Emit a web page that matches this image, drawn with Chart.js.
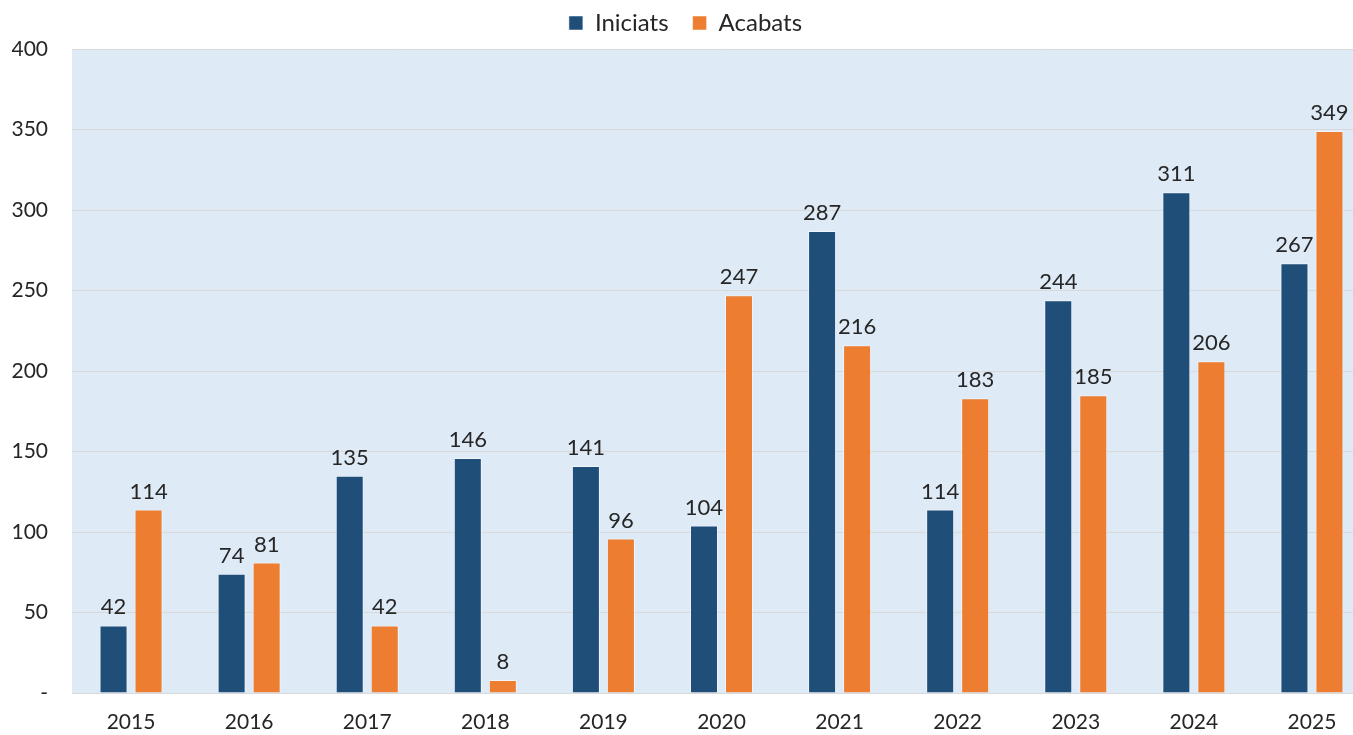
<!DOCTYPE html>
<html>
<head>
<meta charset="utf-8">
<script src="https://cdn.jsdelivr.net/npm/chart.js@4"></script>
<style>
  html, body { margin: 0; padding: 0; background: #fff; overflow: hidden; }
  canvas { display: block; }
</style>
</head>
<body>
<canvas id="barChart" width="1380" height="735"></canvas>
<script>
// dades llegides del gràfic
const anys = ['2015', '2016', '2017', '2018', '2019', '2020', '2021', '2022', '2023', '2024', '2025'];
const iniciats = [42, 74, 135, 146, 141, 104, 287, 114, 244, 311, 267];
const acabats = [114, 81, 42, 8, 96, 247, 216, 183, 185, 206, 349];
const yTicks = [0, 50, 100, 150, 200, 250, 300, 350, 400];

const FONT = 'Lato, "Open Sans", sans-serif';

// fons blau clar de l'àrea del gràfic
const plotBg = {
    id: 'plotBg',
    beforeDraw(chart) {
        const { ctx, chartArea: a } = chart;
        ctx.save();
        ctx.fillStyle = '#DEEAF6';
        ctx.fillRect(a.left, a.top, a.right - a.left, a.bottom - a.top);
        ctx.restore();
    }
};

// llegenda: alçada fixa i una mica més amunt, amb més espai entre elements
const legendFix = {
    id: 'legendFix',
    beforeInit(chart) {
        const lg = chart.legend;
        if (!lg) return;
        const fit = lg.fit;
        lg.fit = function () { fit.call(this); this.height = 49; };
        const draw = lg.draw;
        lg.draw = function () {
            const ctx = this.ctx;
            ctx.save();
            ctx.translate(0, -13);
            draw.call(this);
            ctx.restore();
        };
    }
};

// etiquetes de valor damunt de cada barra
const valueLabels = {
    id: 'valueLabels',
    afterDatasetsDraw(chart) {
        const ctx = chart.ctx;
        ctx.save();
        ctx.font = '22px ' + FONT;
        ctx.fillStyle = '#262626';
        ctx.textAlign = 'center';
        ctx.textBaseline = 'bottom';
        chart.data.datasets.forEach((ds, i) => {
            chart.getDatasetMeta(i).data.forEach((bar, j) => {
                ctx.fillText(ds.data[j], bar.x, bar.y - 7);
            });
        });
        ctx.restore();
    }
};

new Chart(document.getElementById('barChart'), {
    type: 'bar',
    data: {
        labels: anys,
        datasets: [
            { label: 'Iniciats', data: iniciats, backgroundColor: '#1F4E79', borderColor: 'rgba(255,255,255,0.5)', borderWidth: 1 },
            { label: 'Acabats', data: acabats, backgroundColor: '#ED7D31', borderColor: 'rgba(255,255,255,0.5)', borderWidth: 1 }
        ]
    },
    options: {
        responsive: false,
        animation: false,
        categoryPercentage: 0.593,
        barPercentage: 0.8,
        layout: { padding: { top: 0, right: 9, left: 0, bottom: 0 } },
        plugins: {
            legend: {
                position: 'top',
                labels: {
                    font: { family: FONT, size: 24 },
                    color: '#262626',
                    boxWidth: 14,
                    boxHeight: 14,
                    padding: 24
                }
            },
            tooltip: { enabled: false }
        },
        scales: {
            x: {
                grid: { display: false, drawTicks: false },
                border: { color: '#D9D9D9' },
                ticks: { font: { family: FONT, size: 21 }, color: '#262626', padding: 17 },
                afterFit: s => { s.height = 42; }
            },
            y: {
                min: 0,
                max: 400,
                afterBuildTicks: s => { s.ticks = yTicks.map(v => ({ value: v })); },
                grid: { color: '#D9D9D9', drawTicks: false },
                border: { display: false },
                ticks: {
                    font: { family: FONT, size: 21 },
                    color: '#262626',
                    padding: 24,
                    callback: v => v === 0 ? '-' : v
                },
                afterFit: s => { s.width = 72; }
            }
        }
    },
    plugins: [plotBg, legendFix, valueLabels]
});
</script>
</body>
</html>
